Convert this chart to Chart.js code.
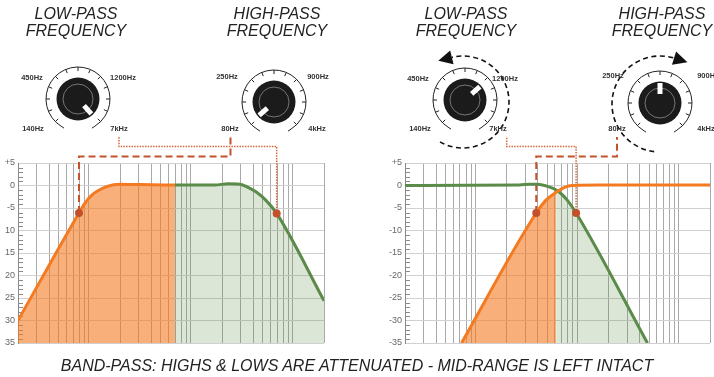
<!DOCTYPE html>
<html>
<head>
<meta charset="utf-8">
<script src="https://cdn.jsdelivr.net/npm/chart.js@4.4.1/dist/chart.umd.min.js"></script>
<style>
  body { margin: 0; width: 714px; height: 377px; position: relative; overflow: hidden; background: #fff;
         font-family: 'Liberation Sans', Arial, sans-serif; }
  canvas { position: absolute; top: 0; }
  .title { position: absolute; width: 140px; margin-left: -70px; text-align: center; font-style: italic;
           font-size: 16px; line-height: 17px; color: #222; top: 5px; }
  .knob { position: absolute; font-size: 7.5px; font-weight: bold; color: #333; transform: translate(-50%, -50%); white-space: nowrap; }
  #caption { position: absolute; left: 0; width: 714px; top: 357px; line-height: 18px; text-align: center; font-style: italic; font-size: 16px; color: #222; }
</style>
</head>
<body>
<canvas id="leftChart" width="357" height="377" style="left:0"></canvas>
<canvas id="rightChart" width="357" height="377" style="left:357px"></canvas>

<div class="title" style="left:76px">LOW-PASS<br>FREQUENCY</div>
<div class="title" style="left:277px">HIGH-PASS<br>FREQUENCY</div>
<div class="title" style="left:466px">LOW-PASS<br>FREQUENCY</div>
<div class="title" style="left:662px">HIGH-PASS<br>FREQUENCY</div>

<div class="knob" style="left:32px;top:77px">450Hz</div>
<div class="knob" style="left:123px;top:77px">1200Hz</div>
<div class="knob" style="left:33px;top:128px">140Hz</div>
<div class="knob" style="left:119px;top:128px">7kHz</div>
<div class="knob" style="left:227px;top:76px">250Hz</div>
<div class="knob" style="left:318px;top:76px">900Hz</div>
<div class="knob" style="left:230px;top:128px">80Hz</div>
<div class="knob" style="left:317px;top:128px">4kHz</div>

<div class="knob" style="left:418px;top:78px">450Hz</div>
<div class="knob" style="left:505px;top:78px">1200Hz</div>
<div class="knob" style="left:420px;top:128px">140Hz</div>
<div class="knob" style="left:498px;top:128px">7kHz</div>
<div class="knob" style="left:613px;top:75px">250Hz</div>
<div class="knob" style="left:708px;top:75px">900Hz</div>
<div class="knob" style="left:617px;top:128px">80Hz</div>
<div class="knob" style="left:706px;top:128px">4kHz</div>

<div id="caption">BAND-PASS: HIGHS &amp; LOWS ARE ATTENUATED - MID-RANGE IS LEFT INTACT</div>

<script>
// y tick labels (left panel drops the minus sign below -5, as in the original)
const yLabelsLeft = ['+5', '0', '-5', '10', '15', '20', '25', '30', '35'];
const yLabelsRight = ['+5', '0', '-5', '-10', '-15', '-20', '-25', '-30', '-35'];

// vertical grid: 3 decades, 100 units each, with uneven minor lines
const decades = [0, 100, 200];
const minorSteps = [0, 18.5, 30.5, 40, 47.5, 54, 60, 65, 69.5];

// left panel: high-pass (orange) and low-pass (green) curves, dB
const leftHpX = [0, 59.8, 65.7, 71.6, 77.5, 87.3, 100, 119.6, 153.9];
const leftHpY = [-30, -6.1, -3.9, -2.3, -1.3, -0.2, 0.3, 0.2, 0.1];
const leftLpX = [153.9, 193.1, 205.9, 217.6, 225.5, 233.3, 243.1, 253.6, 300];
const leftLpY = [0.1, 0.1, 0.4, 0.3, -0.4, -1.4, -3.3, -6.2, -25.6];
const leftDotX = [59.8, 253.6];
const leftDotY = [-6.1, -6.2];
const leftSplit = 153.9;

// right panel
const rightHpX = [55.6, 129.1, 138.9, 148.7, 156.9, 164.7, 191.2, 300];
const rightHpY = [-35, -6.1, -3.2, -1.5, -0.4, 0, 0.1, 0.1];
const rightLpX = [0, 112.7, 122.5, 129.4, 137.3, 145.1, 148.7, 152, 159.8, 168.3, 238.5];
const rightLpY = [0, 0.1, 0.3, 0.3, 0, -0.6, -1.0, -1.5, -3.3, -6.1, -35];
const rightDotX = [129.1, 168.3];
const rightDotY = [-6.1, -6.1];
const rightSplit = 148.7;

const ORANGE = '#f47a22';
const ORANGE_FILL = 'rgba(244,122,34,0.6)';
const GREEN = '#5b8b49';
const GREEN_FILL = 'rgba(91,139,73,0.22)';
const DOT = '#c34f2b';

const gridX = decades.flatMap(d => minorSteps.map(s => d + s)).concat([300]);

function pts(xs, ys) {
    return xs.map((x, i) => ({x: x, y: ys[i]}));
}

const rad = d => d * Math.PI / 180;

function drawKnob(ctx, k) {
    ctx.save();
    // scale ring with ticks
    ctx.strokeStyle = '#222';
    ctx.lineWidth = 1;
    ctx.beginPath();
    ctx.arc(k.x, k.y, 32, rad(122), rad(418));
    ctx.stroke();
    ctx.beginPath();
    for (let a = 135; a <= 405; a += 22.5) {
        ctx.moveTo(k.x + Math.cos(rad(a)) * 32, k.y + Math.sin(rad(a)) * 32);
        ctx.lineTo(k.x + Math.cos(rad(a)) * 28, k.y + Math.sin(rad(a)) * 28);
    }
    ctx.stroke();
    // little hooks at the ends
    [122, 418].forEach((a, i) => {
        const ex = k.x + Math.cos(rad(a)) * 32, ey = k.y + Math.sin(rad(a)) * 32;
        ctx.beginPath();
        ctx.moveTo(ex, ey);
        ctx.lineTo(ex + (i ? -3 : 3), ey + 2);
        ctx.stroke();
    });
    // knob body
    ctx.fillStyle = '#1b1b1b';
    ctx.beginPath();
    ctx.arc(k.x, k.y, 21.5, 0, Math.PI * 2);
    ctx.fill();
    ctx.strokeStyle = '#8a8a8a';
    ctx.lineWidth = 0.8;
    ctx.beginPath();
    ctx.arc(k.x, k.y, 15, 0, Math.PI * 2);
    ctx.stroke();
    // pointer
    ctx.strokeStyle = '#fff';
    ctx.lineWidth = 5;
    ctx.beginPath();
    ctx.moveTo(k.x + Math.cos(rad(k.angle)) * 9, k.y + Math.sin(rad(k.angle)) * 9);
    ctx.lineTo(k.x + Math.cos(rad(k.angle)) * 20, k.y + Math.sin(rad(k.angle)) * 20);
    ctx.stroke();
    // dashed turn arrow
    if (k.ring) {
        const r = k.ring;
        ctx.strokeStyle = '#111';
        ctx.lineWidth = 1.6;
        ctx.setLineDash([5, 3.5]);
        ctx.beginPath();
        ctx.arc(r.cx, r.cy, r.r, rad(r.from), rad(r.to), r.ccw);
        ctx.stroke();
        ctx.setLineDash([]);
        const t = rad(r.to);
        const ex = r.cx + Math.cos(t) * r.r, ey = r.cy + Math.sin(t) * r.r;
        const dx = r.ccw ? Math.sin(t) : -Math.sin(t);
        const dy = r.ccw ? -Math.cos(t) : Math.cos(t);
        ctx.fillStyle = '#111';
        ctx.beginPath();
        ctx.moveTo(ex + dx * 14, ey + dy * 14);
        ctx.lineTo(ex - dy * 7, ey + dx * 7);
        ctx.lineTo(ex + dy * 7, ey - dx * 7);
        ctx.closePath();
        ctx.fill();
    }
    ctx.restore();
}

function decor(spec) {
    return {
        id: 'decor',
        beforeDatasetsDraw(chart) {
            const ctx = chart.ctx, a = chart.chartArea;
            const xs = chart.scales.x, ys = chart.scales.y;
            ctx.save();
            ctx.strokeStyle = '#8a8a8a';
            ctx.lineWidth = 1;
            ctx.beginPath();
            for (let v = -34; v < 5; v++) {
                if (v % 5 === 0) continue;
                const py = Math.round(ys.getPixelForValue(v)) + 0.5;
                ctx.moveTo(a.left, py);
                ctx.lineTo(a.left + 5, py);
            }
            ctx.stroke();
            ctx.restore();
            spec.links.forEach(l => {
                const px = xs.getPixelForValue(l.dot[0]), py = ys.getPixelForValue(l.dot[1]);
                ctx.save();
                ctx.strokeStyle = l.color;
                ctx.lineWidth = l.width;
                ctx.setLineDash(l.dash);
                ctx.beginPath();
                ctx.moveTo(px, py);
                ctx.lineTo(px, l.y);
                ctx.lineTo(l.x, l.y);
                ctx.lineTo(l.x, l.top);
                ctx.stroke();
                ctx.restore();
            });
        },
        afterDraw(chart) {
            spec.knobs.forEach(k => drawKnob(chart.ctx, k));
        }
    };
}

function buildChart(id, cfg) {
    const hp = pts(cfg.hpX, cfg.hpY);
    const lp = pts(cfg.lpX, cfg.lpY);
    return new Chart(document.getElementById(id), {
        type: 'line',
        data: {
            datasets: [
                {data: pts(cfg.dotX, cfg.dotY), showLine: false, pointRadius: 4, pointBackgroundColor: DOT, pointBorderWidth: 0},
                {data: hp, borderColor: ORANGE, borderWidth: 3, pointRadius: 0, fill: false, cubicInterpolationMode: 'monotone'},
                {data: lp, borderColor: GREEN, borderWidth: 3, pointRadius: 0, fill: false, cubicInterpolationMode: 'monotone'},
                {data: hp.filter(p => p.x <= cfg.split), borderColor: 'transparent', borderWidth: 0, pointRadius: 0,
                    backgroundColor: ORANGE_FILL, fill: 'start', cubicInterpolationMode: 'monotone'},
                {data: lp.filter(p => p.x >= cfg.split), borderColor: 'transparent', borderWidth: 0, pointRadius: 0,
                    backgroundColor: GREEN_FILL, fill: 'start', cubicInterpolationMode: 'monotone'}
            ]
        },
        options: {
            responsive: false,
            animation: false,
            events: [],
            layout: {padding: cfg.padding},
            plugins: {legend: {display: false}, tooltip: {enabled: false}},
            scales: {
                x: {
                    type: 'linear', min: 0, max: 300,
                    afterBuildTicks: s => { s.ticks = gridX.map(v => ({value: v})); },
                    afterFit: s => { s.height = 0; },
                    ticks: {display: false},
                    grid: {color: '#a9a9a9', drawTicks: false},
                    border: {display: false}
                },
                y: {
                    min: -35, max: 5,
                    afterFit: s => { s.width = 18; },
                    ticks: {
                        stepSize: 5, padding: 3, color: '#666',
                        font: {family: "'Liberation Sans', Arial, sans-serif", size: 9},
                        callback: v => cfg.labels[(5 - v) / 5]
                    },
                    grid: {color: '#d0d0d0', drawTicks: false},
                    border: {display: true, color: '#888'}
                }
            }
        },
        plugins: [decor(cfg.decor)]
    });
}

buildChart('leftChart', {
    hpX: leftHpX, hpY: leftHpY, lpX: leftLpX, lpY: leftLpY,
    dotX: leftDotX, dotY: leftDotY, split: leftSplit, labels: yLabelsLeft,
    padding: {left: 0, right: 33, top: 163, bottom: 34},
    decor: {
        links: [
            {dot: [leftDotX[0], leftDotY[0]], y: 156.5, x: 230.5, top: 137, color: '#c4532b', width: 2, dash: [7, 4]},
            {dot: [leftDotX[1], leftDotY[1]], y: 146.5, x: 119, top: 137, color: '#d2673c', width: 1.5, dash: [1.5, 1.2]}
        ],
        knobs: [
            {x: 78, y: 99, angle: 48},
            {x: 274, y: 102, angle: 138}
        ]
    }
});

buildChart('rightChart', {
    hpX: rightHpX, hpY: rightHpY, lpX: rightLpX, lpY: rightLpY,
    dotX: rightDotX, dotY: rightDotY, split: rightSplit, labels: yLabelsRight,
    padding: {left: 30, right: 3, top: 163, bottom: 34},
    decor: {
        links: [
            {dot: [rightDotX[0], rightDotY[0]], y: 156.5, x: 260, top: 137, color: '#c4532b', width: 2, dash: [7, 4]},
            {dot: [rightDotX[1], rightDotY[1]], y: 146.5, x: 149.7, top: 137, color: '#d2673c', width: 1.5, dash: [1.5, 1.2]}
        ],
        knobs: [
            {x: 108, y: 100, angle: -42, ring: {cx: 106, cy: 102, r: 46, from: 120, to: -104, ccw: true}},
            {x: 303, y: 103, angle: 270, ring: {cx: 303, cy: 104, r: 48, from: 97, to: 287, ccw: false}}
        ]
    }
});
</script>
</body>
</html>
